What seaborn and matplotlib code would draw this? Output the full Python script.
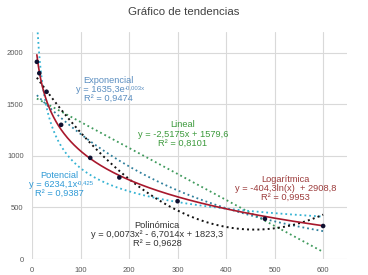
import numpy as np
import pandas as pd
import matplotlib
matplotlib.use("Agg")
import matplotlib.pyplot as plt
import seaborn as sns

# datos
x_vals = [10, 15, 30, 60, 120, 180, 300, 480, 600]
y_vals = [1910, 1800, 1620, 1300, 980, 790, 560, 390, 320]

# coeficientes de las lineas de tendencia (como aparecen en el grafico)
coef_exp = [1635.3, -0.003]
coef_lin = [-2.5175, 1579.6]
coef_pot = [6234.1, -0.425]
coef_log = [-404.3, 2908.8]
coef_pol = [0.0073, -6.7014, 1823.3]

x_ticks = [0, 100, 200, 300, 400, 500, 600]
y_ticks = [0, 500, 1000, 1500, 2000]

sns.set_style("whitegrid", {"grid.color": "#d9d9d9", "axes.edgecolor": "white"})
plt.rcParams["font.family"] = ["Liberation Sans", "DejaVu Sans"]

fig = plt.figure(figsize=(3.68, 2.75), dpi=100)
ax = fig.add_axes([0.087, 0.058, 0.857, 0.826])

xs = np.linspace(min(x_vals), max(x_vals), 600)
xs_pot = np.linspace(5, max(x_vals), 800)
trend = pd.DataFrame({"x": xs})
trend["exp"] = coef_exp[0] * np.exp(coef_exp[1] * xs)
trend["lin"] = coef_lin[0] * xs + coef_lin[1]
trend["log"] = coef_log[0] * np.log(xs) + coef_log[1]
trend["pol"] = coef_pol[0] * xs**2 + coef_pol[1] * xs + coef_pol[2]
trend_pot = pd.DataFrame({"x": xs_pot, "pot": coef_pot[0] * xs_pot**coef_pot[1]})

sns.lineplot(data=trend, x="x", y="lin", ax=ax, color="#3f9a5c", linestyle=":", linewidth=1.3)
sns.lineplot(data=trend, x="x", y="exp", ax=ax, color="#2f7f9c", linestyle=":", linewidth=1.3)
sns.lineplot(data=trend_pot, x="x", y="pot", ax=ax, color="#35b3d3", linestyle=":", linewidth=1.3)
sns.lineplot(data=trend, x="x", y="pol", ax=ax, color="#111111", linestyle=":", linewidth=1.4)
sns.lineplot(data=trend, x="x", y="log", ax=ax, color="#a8182c", linewidth=1.2)
sns.scatterplot(x=x_vals, y=y_vals, ax=ax, color="#101030", s=11, edgecolor="none", zorder=5)

ax.set_xlim(0, 650)
ax.set_ylim(0, 2200)
ax.set_xticks(x_ticks)
ax.set_yticks(y_ticks)
ax.tick_params(labelsize=5.5, colors="#595959", length=0, pad=6)
ax.set_xlabel("")
ax.set_ylabel("")
ax.grid(True, linewidth=0.8)
for s in ax.spines.values():
    s.set_visible(False)

fs = 6.7
def etiqueta(x, ys, lineas, color, sup=None, shift=0):
    for i, (yy, t) in enumerate(zip(ys, lineas)):
        if i == 1 and sup:
            base = ax.text(x - shift, yy, t, ha="center", va="center", fontsize=fs, color=color)
            ax.annotate(sup, xy=(1.0, 0.38), xycoords=base, ha="left", va="bottom",
                        fontsize=fs * 0.65, color=color)
        else:
            ax.text(x, yy, t, ha="center", va="center", fontsize=fs, color=color)

etiqueta(157, [1731, 1644, 1557],
         ["Exponencial", "y = 1635,3e", "R² = 0,9474"], "#5b8ec0", "-0,003x", 17)
etiqueta(311, [1306, 1209, 1122],
         ["Lineal", "y = -2,5175x + 1579,6", "R² = 0,8101"], "#3c9a3c")
etiqueta(56, [812, 725, 638],
         ["Potencial", "y = 6234,1x", "R² = 0,9387"], "#2f9ad6", "-0,425", 13)
etiqueta(522, [774, 687, 600],
         ["Logarítmica", "y = -404,3ln(x)  + 2908,8", "R² = 0,9953"], "#9c3b3b")
etiqueta(258, [329, 242, 155],
         ["Polinómica", "y = 0,0073x² - 6,7014x + 1823,3", "R² = 0,9628"], "#333333")

fig.text(0.5, 0.955, "Gráfico de tendencias", ha="center", va="center", fontsize=8.2, color="#404040")

fig.savefig("out.png", dpi=100)
